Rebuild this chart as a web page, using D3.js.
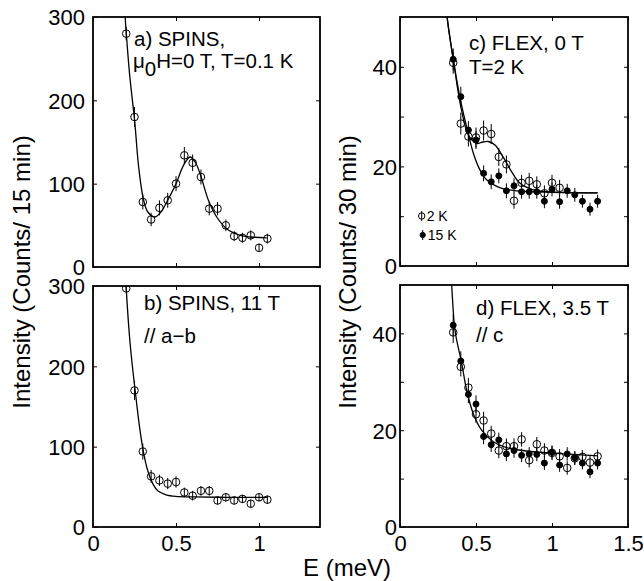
<!DOCTYPE html>
<html><head><meta charset="utf-8">
<script src="https://cdn.jsdelivr.net/npm/d3@7"></script>
<style>body{margin:0;background:#fff}svg{display:block}text{font-family:"Liberation Sans",Arial,sans-serif;fill:#000}</style>
</head><body>
<script>
// ---------- data ----------
const aE   = [0.2,0.25,0.3,0.35,0.4,0.45,0.5,0.55,0.6,0.65,0.7,0.75,0.8,0.85,0.9,0.95,1.0,1.05];
const aI   = [280,180,78,57,71,80,100,134,125,108,70,70,50,37,35,38,23,34];
const aErr = [8,12,9,8,9,9,9,10,10,9,8,8,7,6,6,6,5,6];
const aFitE = [0.18,0.197,0.22,0.251,0.275,0.303,0.33,0.373,0.41,0.444,0.5,0.545,0.584,0.615,0.645,0.695,0.745,0.805,0.886,0.95,1.046];
const aFitI = [340,290,232,175,120,82,66,60,66,78,100,122,132,126,112,80,60,46,38,36,35];

const bE   = [0.2,0.25,0.3,0.35,0.4,0.45,0.5,0.55,0.6,0.65,0.7,0.75,0.8,0.85,0.9,0.95,1.0,1.05];
const bI   = [297,170,94,63,58,54,56,43,39,45,45,33,37,33,35,29,37,34];
const bErr = [3,12,10,8,7,7,7,6,6,6,6,5,5,5,5,5,5,5];
const bFitE = [0.195,0.2,0.225,0.255,0.28,0.305,0.33,0.36,0.39,0.44,0.5,0.6,0.8,1.05];
const bFitI = [320,297,225,168,125,92,70,54,45,40,38,37.5,37,37];

const cE2   = [0.35,0.4,0.45,0.5,0.55,0.6,0.65,0.7,0.75,0.8,0.85,0.9,0.95,1.0,1.05];
const cI2   = [40.8,28.6,26.0,25.8,27.2,26.5,21.9,20.4,13.1,16.7,17.1,16.4,14.6,16.7,15.7];
const cErr2 = [2.2,2.2,2.0,2.0,2.0,2.0,1.8,1.8,1.6,1.6,1.6,1.6,1.6,1.6,1.6];
const cE15   = [0.35,0.4,0.45,0.5,0.55,0.6,0.65,0.7,0.75,0.8,0.85,0.9,0.95,1.0,1.05,1.1,1.15,1.2,1.25,1.3];
const cI15   = [41.5,34.0,27.3,25.3,18.6,16.9,18.1,15.1,16.1,14.9,14.9,14.9,13.0,15.4,12.9,15.1,14.3,13.0,11.4,13.0];
const cErr15 = [2.2,2.0,1.8,1.8,1.6,1.5,1.5,1.5,1.5,1.4,1.4,1.4,1.4,1.4,1.4,1.4,1.4,1.3,1.3,1.3];
const cFit15E = [0.3,0.31,0.353,0.4,0.45,0.483,0.526,0.57,0.66,0.77,1.0,1.3];
const cFit15I = [55,50,41,33,26.5,22.6,19.3,17.3,15.7,15.1,14.8,14.7];
const cFit2E = [0.3,0.31,0.353,0.4,0.45,0.504,0.545,0.581,0.625,0.68,0.735,0.79,0.877,1.0,1.3];
const cFit2I = [55,50,41,32,26.3,24.6,24.9,25.0,24.3,21.8,18.9,16.6,15.3,14.9,14.7];

const dE2   = [0.35,0.4,0.45,0.5,0.55,0.6,0.65,0.7,0.75,0.8,0.85,0.9,0.95,1.0,1.05,1.1,1.15,1.2,1.25,1.3];
const dI2   = [40.2,33.1,28.8,23.3,22.0,19.3,15.8,16.7,16.7,18.1,13.8,17.1,15.8,15.3,14.6,12.2,14.2,14.5,13.3,14.6];
const dErr2 = [2.2,2.0,2.0,1.8,1.8,1.6,1.6,1.6,1.6,1.5,1.5,1.5,1.5,1.5,1.5,1.4,1.4,1.4,1.4,1.4];
const dE15   = [0.35,0.4,0.45,0.5,0.55,0.6,0.65,0.7,0.75,0.8,0.85,0.9,0.95,1.0,1.05,1.1,1.15,1.2,1.25,1.3];
const dI15   = [41.7,34.3,27.4,25.4,18.7,17.0,18.0,15.1,15.8,14.8,15.1,15.0,13.2,15.4,12.8,15.1,14.3,13.2,11.4,13.2];
const dErr15 = [2.2,2.0,1.8,1.8,1.6,1.5,1.5,1.5,1.5,1.4,1.4,1.4,1.4,1.4,1.4,1.4,1.4,1.3,1.3,1.3];
const dFitE = [0.33,0.34,0.362,0.406,0.439,0.482,0.537,0.614,0.702,0.833,1.03,1.3];
const dFitI = [55,50,40.6,33.8,28.2,23.4,20,17.6,16.4,15.7,15.2,14.7];

const xTicksL = [0,0.5,1];
const xTicksR = [0,0.5,1,1.5];
const yTicksL = [0,100,200,300];
const yTicksR = [0,10,20,30,40,50];
const yLabelsR = [0,20,40];
const legendLabels = ["2 K","15 K"];

// ---------- drawing ----------
const W = 644, H = 581;
const svg = d3.select("body").append("svg").attr("width",W).attr("height",H);
const FS = 22, PFS = 20.5;

function panel(o){
  const x = d3.scaleLinear().domain(o.xd).range([o.x0,o.x1]);
  const y = d3.scaleLinear().domain(o.yd).range([o.y1,o.y0]);
  const g = svg.append("g");
  const cid = "clip"+o.id;
  svg.append("clipPath").attr("id",cid).append("rect")
    .attr("x",o.x0).attr("y",o.y0).attr("width",o.x1-o.x0).attr("height",o.y1-o.y0);
  const tl = 4;
  const ax = [
    d3.axisBottom(x).tickValues(o.xt).tickSizeInner(-tl).tickSizeOuter(0).tickFormat(o.showX?d3.format("~g"):""),
    d3.axisTop(x).tickValues(o.xt).tickSizeInner(-tl).tickSizeOuter(0).tickFormat(""),
    d3.axisLeft(y).tickValues(o.yt).tickSizeInner(-tl).tickSizeOuter(0).tickFormat(v=>o.yl.includes(v)?d3.format("~g")(v):""),
    d3.axisRight(y).tickValues(o.yt).tickSizeInner(-tl).tickSizeOuter(0).tickFormat("")
  ];
  const pos = [[0,o.y1],[0,o.y0],[o.x0,0],[o.x1,0]];
  ax.forEach((a,i)=>{
    const ag = g.append("g").attr("transform",`translate(${pos[i][0]},${pos[i][1]})`).call(a);
    ag.select(".domain").remove();
    ag.selectAll(".tick line").attr("stroke","#000").attr("stroke-width",1);
    ag.selectAll(".tick text").attr("font-size",FS).attr("font-family",'"Liberation Sans",Arial,sans-serif').attr("fill","#000");
    if(i===0) ag.selectAll(".tick text").attr("y",8).attr("dy","0.71em");
    if(i===2) ag.selectAll(".tick text").attr("x",o.ylx).attr("dy","0.36em");
  });
  g.append("rect").attr("x",o.x0).attr("y",o.y0).attr("width",o.x1-o.x0).attr("height",o.y1-o.y0)
    .attr("fill","none").attr("stroke","#000").attr("stroke-width",1.8);
  const pg = g.append("g").attr("clip-path",`url(#${cid})`);
  const line = d3.line().x(d=>x(d[0])).y(d=>y(d[1])).curve(d3.curveCatmullRom.alpha(0.5));
  o.fits.forEach(f=>{
    pg.append("path").datum(d3.zip(f[0],f[1])).attr("d",line)
      .attr("fill","none").attr("stroke","#000").attr("stroke-width",1.3);
  });
  o.series.forEach(s=>{
    const pts = d3.zip(s.E,s.I,s.err);
    pg.selectAll(null).data(pts).enter().append("line")
      .attr("x1",d=>x(d[0])).attr("x2",d=>x(d[0]))
      .attr("y1",d=>y(d[1]-d[2])).attr("y2",d=>y(d[1]+d[2]))
      .attr("stroke","#000").attr("stroke-width",1);
    pg.selectAll(null).data(pts).enter().append("circle")
      .attr("cx",d=>x(d[0])).attr("cy",d=>y(d[1]))
      .attr("r",s.filled?3:3.8)
      .attr("fill",s.filled?"#000":"none").attr("stroke","#000").attr("stroke-width",1);
  });
  o.texts.forEach(t=>{
    const tx = g.append("text").attr("x",t[0]).attr("y",t[1]).attr("font-size",PFS);
    if(t[3]){
      tx.append("tspan").text("μ");
      tx.append("tspan").text("0").attr("dy",8);
      tx.append("tspan").text(t[2]).attr("dy",-8);
    } else tx.text(t[2]);
  });
  return {x,y,g};
}

panel({id:"a",x0:93,x1:320,y0:17,y1:267,xd:[0,1.367],yd:[0,300],xt:xTicksL,yt:yTicksL,yl:yTicksL,showX:false,ylx:-8,
  fits:[[aFitE,aFitI]],series:[{E:aE,I:aI,err:aErr,filled:false}],
  texts:[[134,46,"a) SPINS,"],[133,68,"H=0 T, T=0.1 K",true]]});
panel({id:"b",x0:93,x1:320,y0:286,y1:527,xd:[0,1.367],yd:[0,300],xt:xTicksL,yt:yTicksL,yl:yTicksL,showX:true,ylx:-8,
  fits:[[bFitE,bFitI]],series:[{E:bE,I:bI,err:bErr,filled:false}],
  texts:[[144,309.5,"b) SPINS, 11 T"],[144,343,"// a−b"]]});
panel({id:"c",x0:400,x1:628,y0:17,y1:266,xd:[0,1.5],yd:[0,50],xt:xTicksR,yt:yTicksR,yl:yLabelsR,showX:false,ylx:-3,
  fits:[[cFit15E,cFit15I],[cFit2E,cFit2I]],
  series:[{E:cE15,I:cI15,err:cErr15,filled:true},{E:cE2,I:cI2,err:cErr2,filled:false}],
  texts:[[469,50,"c) FLEX, 0 T"],[469,74,"T=2 K"]]});
panel({id:"d",x0:400,x1:628,y0:285,y1:527,xd:[0,1.5],yd:[0,50],xt:xTicksR,yt:yTicksR,yl:yLabelsR,showX:true,ylx:-3,
  fits:[[dFitE,dFitI]],
  series:[{E:dE15,I:dI15,err:dErr15,filled:true},{E:dE2,I:dI2,err:dErr2,filled:false}],
  texts:[[476,315,"d) FLEX, 3.5 T"],[476,341.5,"// c"]]});

// legend in panel c
const lg = svg.append("g");
[[421.7,216,false],[422.7,235,true]].forEach((p,i)=>{
  lg.append("line").attr("x1",p[0]).attr("x2",p[0]).attr("y1",p[1]-5).attr("y2",p[1]+5).attr("stroke","#000");
  lg.append("circle").attr("cx",p[0]).attr("cy",p[1]).attr("r",p[2]?2.6:3.2)
    .attr("fill",p[2]?"#000":"none").attr("stroke","#000");
  lg.append("text").attr("x",p[0]+5).attr("y",p[1]+5).attr("font-size",14).text(legendLabels[i]);
});

// axis titles
svg.append("text").attr("transform","translate(30,272) rotate(-90)").attr("text-anchor","middle")
  .attr("font-size",24).text("Intensity (Counts/ 15 min)");
svg.append("text").attr("transform","translate(356,272) rotate(-90)").attr("text-anchor","middle")
  .attr("font-size",24).text("Intensity (Counts/ 30 min)");
svg.append("text").attr("x",347).attr("y",576).attr("text-anchor","middle").attr("font-size",24).text("E (meV)");
</script>
</body></html>
